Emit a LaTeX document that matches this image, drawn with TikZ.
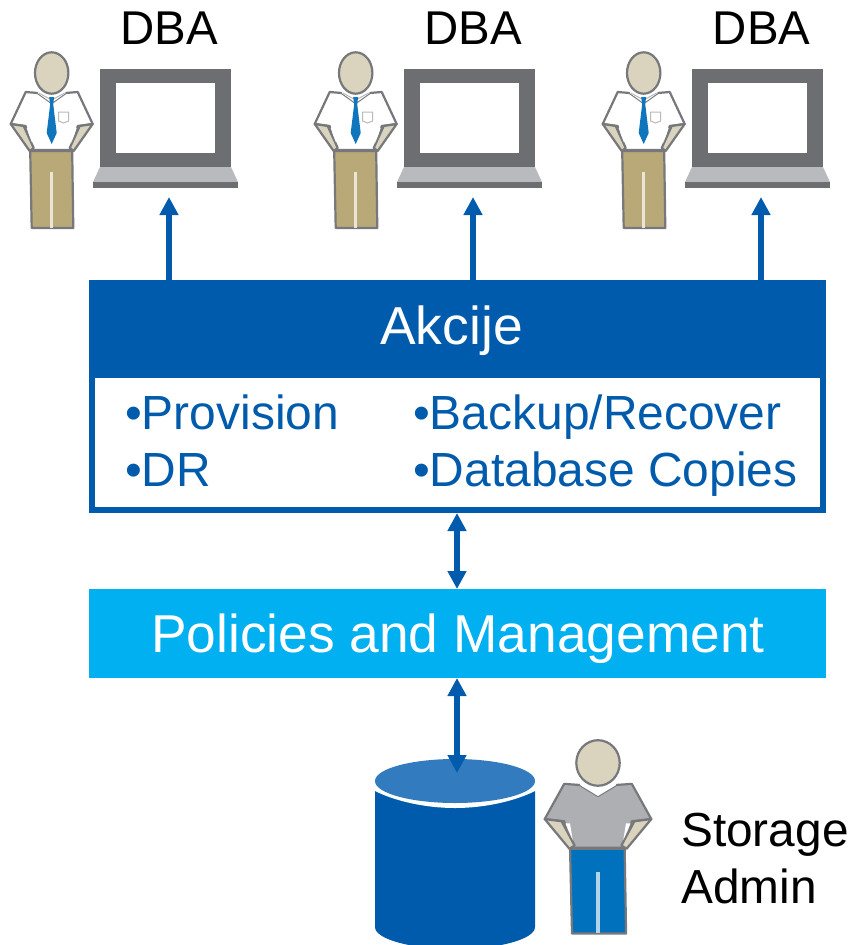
\documentclass[tikz,border=0pt]{standalone}
\usepackage{fontspec}
\setmainfont{Liberation Sans}
\usetikzlibrary{arrows.meta,shapes.geometric}
\definecolor{dkblue}{HTML}{005BAC}
\definecolor{cyblue}{HTML}{00B0F0}
\definecolor{lidblue}{HTML}{337BBF}
\definecolor{skin}{HTML}{DAD3BE}
\definecolor{outl}{HTML}{77787B}
\definecolor{khaki}{HTML}{B9A878}
\definecolor{lapdark}{HTML}{6D6E71}
\definecolor{lapbase}{HTML}{B8BABD}
\definecolor{shirtg}{HTML}{ADAFB2}
\definecolor{jeans}{HTML}{0071BC}
\definecolor{tieblue}{HTML}{0F75BC}
\tikzset{
  fs/.style={font=\fontsize{#1}{#1}\selectfont},
  lbl/.style={fs=47.8,inner sep=0pt,anchor=base west,text=black},
  lblc/.style={fs=47.4,inner sep=0pt,anchor=base,text=black},
  bluetxt/.style={fs=47.9,inner sep=0pt,anchor=base west,text=dkblue},
  arrowup/.style={draw=dkblue,line width=6pt,-{Triangle[length=18pt,width=18pt]}},
  arrowboth/.style={draw=dkblue,line width=6pt,{Triangle[length=18pt,width=18pt]}-{Triangle[length=18pt,width=18pt]}},
  figline/.style={draw=outl,line width=2.2pt,line join=round},
  pics/person/.style n args={3}{code={
    % origin at head centre
    \path[figline,fill=#2] (-21.5,78)--(20.5,78)--(21.6,155)--(-20,155)--cycle;
    \fill[#3!70!#2] (-1.4,99) rectangle (1.4,155);
    \path[figline,fill=#1] (-14,20)--(-26,19)--(-41,51)--(-26,53)--(-21,77)--(21,77)--(26,53)--(41,51)--(26,19)--(14,20)--(0,30)--cycle;
    \path[figline,fill=skin] (-41,51)--(-28,53)--(-18,75)--(-22,78)--cycle;
    \path[figline,fill=skin] (41,51)--(28,53)--(18,75)--(22,78)--cycle;
    \fill[#3] (-25,55)--(-21.5,55)--(-19.5,70)--cycle;
    \fill[#3] (25,55)--(21.5,55)--(19.5,70)--cycle;
    \fill[#3] (-14,20)--(0,30)--(14,20)--(10,12)--(-10,12)--cycle;
    \path[figline,fill=skin] (0,0) ellipse (16.7 and 20.7);
  }},
  pics/laptop/.style={code={
    \fill[lapbase] (7,98)--(138,98)--(145,113)--(0,113)--cycle;
    \fill[lapdark] (0,113) rectangle (145,119);
    \fill[lapdark] (7,0) rectangle (138,98);
    \fill[white] (23,14) rectangle (122,84);
  }},
  pics/tie/.style={code={
    \draw[lapbase,line width=1pt] (-13,20)--(0,27)--(13,20);
    \fill[tieblue] (-2.5,24)--(2.5,24)--(1.5,31)--(5,60)--(0,71)--(-5,60)--(-1.5,31)--cycle;
    \draw[lapbase,line width=1pt,fill=white] (7,39)--(17,39)--(17,48)--(12,50)--(7,48)--cycle;
  }}
}
\begin{document}
\begin{tikzpicture}[x=1pt,y=-1pt]
\useasboundingbox (0,0) rectangle (847,945);
\clip (0,0) rectangle (847,945);

% boxes
\node[draw=dkblue,fill=white,line width=6pt,minimum width=731pt,minimum height=135pt,inner sep=0pt] (list) at (457.5,442.5) {};
\node[fill=dkblue,minimum width=737pt,minimum height=97pt,inner sep=0pt] (akc) at (457.5,328.5) {};
\node[fill=cyblue,minimum width=737pt,minimum height=89pt,inner sep=0pt] (pol) at (457.5,633.5) {};
\node[lblc,text=white,fs=53.4] (akct) at (451.5,344) {Akcije};
\node[lblc,text=white,fs=53.3] (polt) at (458,652) {Policies and Management};
\node[bluetxt] (t1) at (125,429) {•Provision};
\node[bluetxt] (t2) at (125,486.5) {•DR};
\node[bluetxt] (t3) at (413,429) {•Backup/Recover};
\node[bluetxt] (t4) at (413,486.5) {•Database Copies};

% DBA stations
\pic at (93,69) {laptop};
\pic at (397,69) {laptop};
\pic at (685,69) {laptop};
\pic at (51.7,73) {person={white}{khaki}{white}};
\pic at (355.7,73) {person={white}{khaki}{white}};
\pic at (643.7,73) {person={white}{khaki}{white}};
\pic at (51.7,73) {tie};
\pic at (355.7,73) {tie};
\pic at (643.7,73) {tie};
\node[lblc] (dba1) at (169.5,44.5) {DBA};
\node[lblc] (dba2) at (473.5,44.5) {DBA};
\node[lblc] (dba3) at (761.5,44.5) {DBA};

\coordinate (lap1) at (169,197);
\coordinate (lap2) at (473,197);
\coordinate (lap3) at (761,197);
\coordinate (ak1) at (169,280);
\coordinate (ak2) at (473,280);
\coordinate (ak3) at (761,280);
\draw[arrowup] (ak1) -- (lap1);
\draw[arrowup] (ak2) -- (lap2);
\draw[arrowup] (ak3) -- (lap3);

% cylinder
\fill[dkblue] (375,791) -- (375,927) arc[start angle=180,end angle=360,x radius=80,y radius=-22] -- (535,791) -- cycle;
\fill[white] (372,775) -- (372,791) -- (375,791) .. controls (395,801) and (425,808) .. (455,808) .. controls (485,808) and (515,801) .. (535,791) -- (538,791) -- (538,775) -- cycle;
\node[draw=none,fill=lidblue,ellipse,minimum width=160pt,minimum height=44pt,inner sep=0pt] (cyl) at (455,781) {};
\coordinate (cyltop) at (457,773);

\coordinate (l1) at (457,513);
\coordinate (p1) at (457,589);
\coordinate (p2) at (457,678);
\draw[arrowboth] (l1) -- (p1);
\draw[arrowboth] (p2) -- (cyltop);

% storage admin
\begin{scope}[xscale=1.3,yscale=1.1]
\pic[transform shape] at (460,693.6) {person={shirtg}{jeans}{white}};
\end{scope}
\node[lbl] (st1) at (681,846) {Storage};
\node[lbl] (st2) at (681,903) {Admin};
\end{tikzpicture}
\end{document}
